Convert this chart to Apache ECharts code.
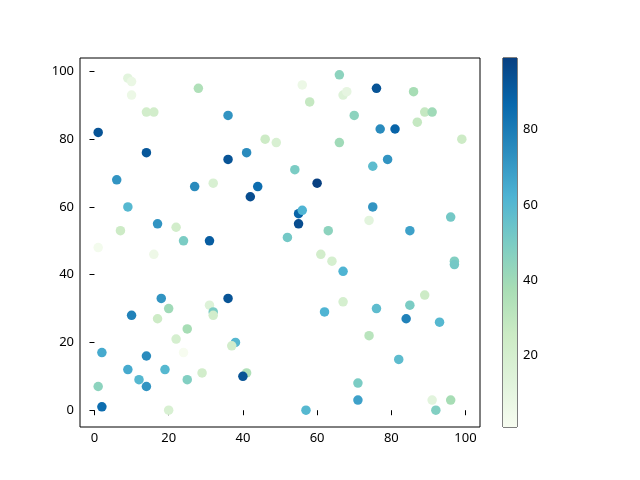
<!DOCTYPE html>
<html><head><meta charset="utf-8">
<script src="https://cdn.jsdelivr.net/npm/echarts@6/dist/echarts.min.js"></script>
<style>html,body{margin:0;padding:0;background:#fff}#c{width:640px;height:480px}</style>
</head><body><div id="c"></div>
<script>
const xs = [9,10,10,28,14,16,1,14,6,9,7,1,17,16,22,24,27,31,32,36,36,41,42,44,46,49,56,58,66,67,68,70,54,55,56,55,60,66,63,61,64,67,74,75,75,76,77,81,79,86,87,89,91,99,85,96,97,97,52,67,62,76,85,84,89,93,74,82,71,71,91,96,92,57,41,40,38,37,36,31,32,32,25,25,29,24,22,20,17,18,19,20,14,12,14,10,9,2,1,2];
const ys = [98,97,93,95,88,88,82,76,68,60,53,48,55,46,54,50,66,50,67,87,74,76,63,66,80,79,96,91,99,93,94,87,71,58,59,55,67,79,53,46,44,41,56,72,60,95,83,83,74,94,85,88,88,80,53,57,44,43,51,32,29,30,31,27,34,26,22,15,8,3,3,3,0,0,11,10,20,19,33,31,29,28,24,9,11,17,21,30,27,33,12,0,16,9,7,28,12,17,7,1];
const cs = [12,8,7,35,22,22,93,92,72,60,25,3,72,6,22,50,75,90,18,72,93,75,95,85,25,18,7,28,45,15,10,45,50,88,62,95,99,40,45,22,20,62,12,58,72,93,75,88,72,38,28,28,40,25,68,52,48,52,52,20,62,58,50,78,25,60,32,58,50,68,12,38,48,60,35,93,60,22,93,15,50,22,38,48,22,1,20,40,25,72,60,18,75,60,72,78,65,65,45,85];
const xTicks = [0,20,40,60,80,100];
const yTicks = [0,20,40,60,80,100];
const cTicks = [20,40,60,80];
const GnBu = ['#f7fcf0','#e0f3db','#ccebc5','#a8ddb5','#7bccc4','#4eb3d3','#2b8cbe','#0868ac','#084081'];

const cMin = Math.min(...cs), cMax = Math.max(...cs);
const xMin = Math.min(...xs), xMax = Math.max(...xs);
const yMin = Math.min(...ys), yMax = Math.max(...ys);
const xPad = (xMax - xMin) * 0.05, yPad = (yMax - yMin) * 0.05;
const font = {fontFamily: 'Noto Sans', fontSize: 13, color: '#000'};
const chart = echarts.init(document.getElementById('c'), null, {renderer: 'canvas'});
chart.setOption({
  animation: false,
  backgroundColor: '#fff',
  grid: [
    {left: 80, right: 160, top: 58, bottom: 53, show: true, borderColor: '#000', borderWidth: 1, containLabel: false},
    {left: 503, width: 14, top: 58, bottom: 53, show: true, borderColor: '#000', borderWidth: 1, containLabel: false}
  ],
  xAxis: [
    {type: 'value', gridIndex: 0, min: xMin - xPad, max: xMax + xPad,
     splitLine: {show: false}, axisLine: {show: false},
     axisTick: {show: true, length: 5, lineStyle: {color: '#000'}, customValues: xTicks},
     axisLabel: Object.assign({margin: 5, customValues: xTicks}, font)},
    {type: 'value', gridIndex: 1, min: 0, max: 1, show: false}
  ],
  yAxis: [
    {type: 'value', gridIndex: 0, min: yMin - yPad, max: yMax + yPad,
     splitLine: {show: false}, axisLine: {show: false},
     axisTick: {show: true, length: 5, lineStyle: {color: '#000'}, customValues: yTicks},
     axisLabel: Object.assign({margin: 6, customValues: yTicks}, font)},
    {type: 'value', gridIndex: 1, position: 'right', min: cMin, max: cMax,
     splitLine: {show: false}, axisLine: {show: false},
     axisTick: {show: true, length: 5, lineStyle: {color: '#000'}, customValues: cTicks},
     axisLabel: Object.assign({margin: 6, customValues: cTicks}, font)}
  ],
  visualMap: [{type: 'continuous', show: false, min: cMin, max: cMax, dimension: 2, seriesIndex: 0, inRange: {color: GnBu}}],
  series: [
    {type: 'scatter', xAxisIndex: 0, yAxisIndex: 0, symbolSize: 9.5,
     data: xs.map((x, i) => [x, ys[i], cs[i]]), itemStyle: {opacity: 1}},
    {type: 'custom', xAxisIndex: 1, yAxisIndex: 1, data: [[0]], silent: true,
     renderItem: function (params, api) {
       const p0 = api.coord([0, cMax]);
       const p1 = api.coord([1, cMin]);
       const stops = GnBu.slice().reverse().map((c, i) => ({offset: i / (GnBu.length - 1), color: c}));
       return {type: 'rect', shape: {x: p0[0], y: p0[1], width: p1[0] - p0[0], height: p1[1] - p0[1]},
               style: {fill: new echarts.graphic.LinearGradient(0, 0, 0, 1, stops)}};
     }}
  ]
});
</script></body></html>
